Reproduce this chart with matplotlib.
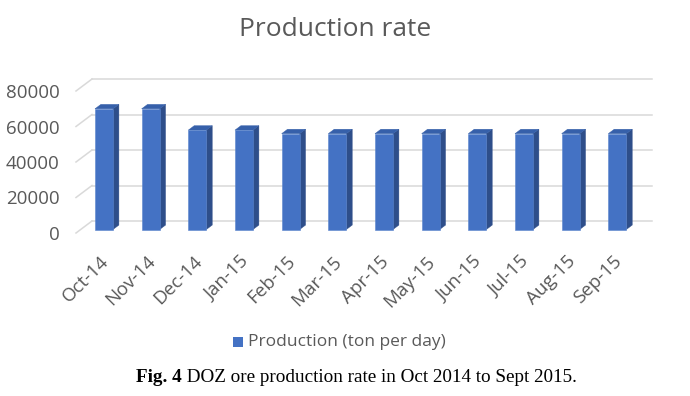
import matplotlib
matplotlib.use("Agg")
import matplotlib.pyplot as plt
from matplotlib.patches import Polygon, Rectangle

months = ["Oct-14", "Nov-14", "Dec-14", "Jan-15", "Feb-15", "Mar-15",
          "Apr-15", "May-15", "Jun-15", "Jul-15", "Aug-15", "Sep-15"]
production = [68000, 68000, 56000, 56000, 54000, 54000,
              54000, 54000, 54000, 54000, 54000, 54000]
yticks = [0, 20000, 40000, 60000, 80000]
title = "Production rate"
series_label = "Production (ton per day)"
caption_bold = "Fig. 4"
caption_rest = " DOZ ore production rate in Oct 2014 to Sept 2015."

W, H = 690, 396
fig = plt.figure(figsize=(W / 100, H / 100), dpi=100)
ax = fig.add_axes([76 / W, (H - 233) / H, 560 / W, 142 / H])
ax.set_xlim(-0.5, len(months) - 0.5)
ax.set_ylim(0, 80000)
for s in ax.spines.values():
    s.set_visible(False)

px_x = len(months) / 560.0
px_y = 80000 / 142.0
DX = 16 * px_x
DY = 12 * px_y

grid_c = "#D9D9D9"
x0, x1 = -0.5, len(months) - 0.5
for v in yticks:
    ax.plot([x0 + DX, x1 + DX], [v + DY, v + DY], color=grid_c, lw=1.1,
            clip_on=False, zorder=1)
    ax.plot([x0, x0 + DX], [v, v + DY], color=grid_c, lw=1.1,
            clip_on=False, zorder=1)

front_c = "#4472C4"
side_c = "#2E4E8A"
top_c = "#3660AA"
bw = 18 * px_x
f = 0.29
d = 0.37
for i, v in enumerate(production):
    bx = i - bw / 2 + f * DX
    by = f * DY
    ddx, ddy = d * DX, d * DY
    ax.add_patch(Polygon([(bx + bw, by), (bx + bw + ddx, by + ddy),
                          (bx + bw + ddx, by + v + ddy), (bx + bw, by + v)],
                         closed=True, fc=side_c, ec=side_c, lw=0.3,
                         clip_on=False, zorder=3))
    ax.add_patch(Polygon([(bx, by + v), (bx + ddx, by + v + ddy),
                          (bx + bw + ddx, by + v + ddy), (bx + bw, by + v)],
                         closed=True, fc=top_c, ec=top_c, lw=0.3,
                         clip_on=False, zorder=3))
ax.bar([i + f * DX for i in range(len(months))], production, width=bw,
       bottom=f * DY, color=front_c, edgecolor="#5A84CC", linewidth=0.4,
       zorder=4, clip_on=False)

font = "Open Sans"
txt_c = "#595959"
ax.set_yticks(yticks)
ax.set_yticklabels([str(v) for v in yticks], fontsize=13.5, color=txt_c, family=font)
ax.tick_params(axis="y", length=0, pad=12)
ax.set_xticks(range(len(months)))
ax.set_xticklabels(months, rotation=45, ha="right", va="top",
                   rotation_mode="anchor", fontsize=13.5, color=txt_c, family=font)
ax.tick_params(axis="x", length=0, pad=14)

fig.text(335 / W, 1 - 29 / H, title, ha="center", va="center",
         fontsize=19, color=txt_c, family=font)

lx, ly = 233, 342
fig.patches.append(Rectangle((lx / W, 1 - (ly + 5) / H), 10 / W, 10 / H,
                             transform=fig.transFigure, fc=front_c, ec="none"))
fig.text((lx + 15) / W, 1 - ly / H, series_label, ha="left", va="center",
         fontsize=12.5, color=txt_c, family=font)

# caption: bold part + regular part, fitted to the reference width
serif = "Liberation Serif"
t1 = fig.text(0, 1 - 377 / H, caption_bold, ha="left", va="center",
              fontsize=14, color="black", family=serif, weight="bold")
t2 = fig.text(0, 1 - 377 / H, caption_rest, ha="left", va="center",
              fontsize=14, color="black", family=serif)
fig.canvas.draw()
r = fig.canvas.get_renderer()
tot = t1.get_window_extent(r).width + t2.get_window_extent(r).width
fs = 14 * 443 / tot
t1.set_fontsize(fs)
t2.set_fontsize(fs)
fig.canvas.draw()
w1 = t1.get_window_extent(r).width
w2 = t2.get_window_extent(r).width
start = 356.5 - (w1 + w2) / 2
t1.set_x(start / W)
t2.set_x((start + w1) / W)

fig.savefig("out.png", dpi=100, facecolor="white")
